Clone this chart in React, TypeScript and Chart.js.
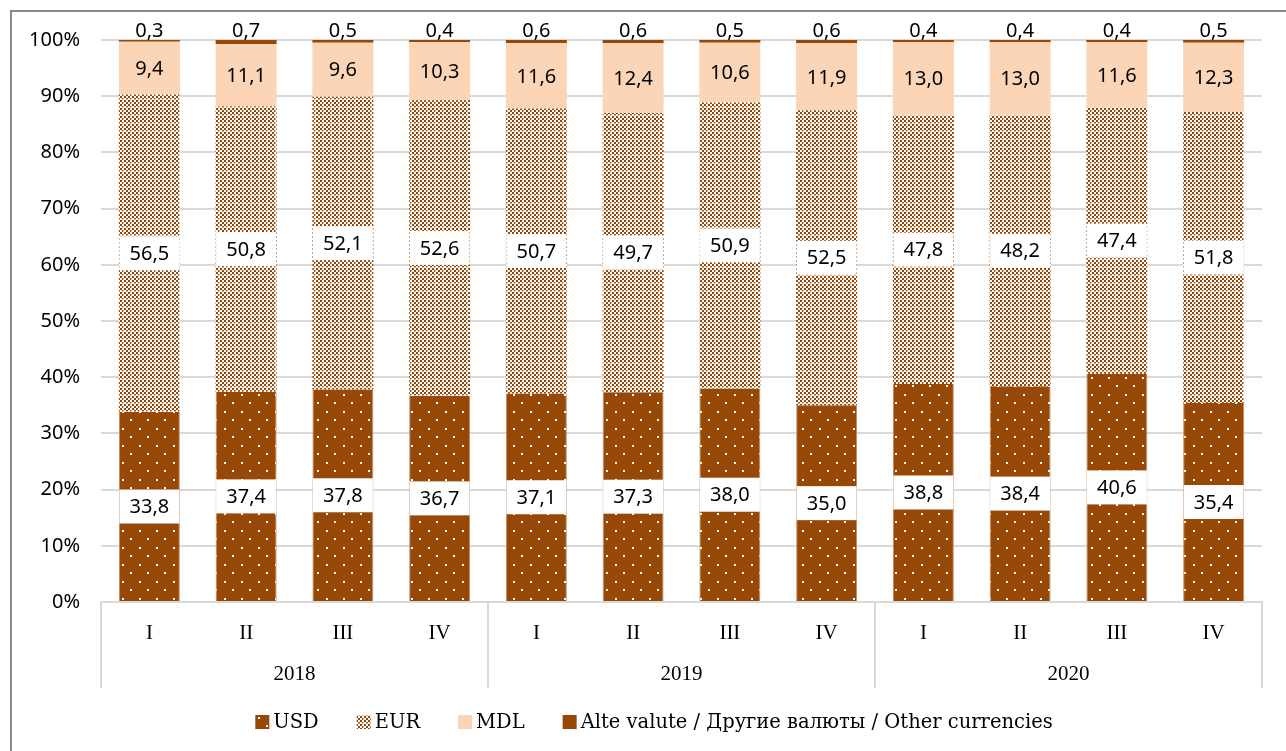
import React, { useEffect, useRef } from 'react';
import { Chart, registerables } from 'chart.js';
Chart.register(...registerables);

const quarters = ['I', 'II', 'III', 'IV', 'I', 'II', 'III', 'IV', 'I', 'II', 'III', 'IV'];
const years = ['2018', '2019', '2020'];
const usd = [33.8, 37.4, 37.8, 36.7, 37.1, 37.3, 38.0, 35.0, 38.8, 38.4, 40.6, 35.4];
const eur = [56.5, 50.8, 52.1, 52.6, 50.7, 49.7, 50.9, 52.5, 47.8, 48.2, 47.4, 51.8];
const mdl = [9.4, 11.1, 9.6, 10.3, 11.6, 12.4, 10.6, 11.9, 13.0, 13.0, 11.6, 12.3];
const other = [0.3, 0.7, 0.5, 0.4, 0.6, 0.6, 0.5, 0.6, 0.4, 0.4, 0.4, 0.5];
const seriesNames = ['USD', 'EUR', 'MDL', 'Alte valute / Другие валюты / Other currencies'];

const BROWN = '#974806';
const PEACH = '#fbd5b5';
const GRID = '#d9d9d9';
const NUM_FONT = '"Noto Sans", sans-serif';
const SERIF_FONT = '"Liberation Serif", serif';
const LEGEND_FONT = '"DejaVu Serif", serif';

function makeDotPattern(ctx: CanvasRenderingContext2D) {
  const c = document.createElement('canvas');
  c.width = 17;
  c.height = 17;
  const g = c.getContext('2d')!;
  g.fillStyle = BROWN;
  g.fillRect(0, 0, 17, 17);
  g.fillStyle = '#ffffff';
  g.fillRect(3, 3, 2, 2);
  g.fillRect(11, 11, 2, 2);
  return ctx.createPattern(c, 'repeat')!;
}

function makeCheckPattern(ctx: CanvasRenderingContext2D) {
  const c = document.createElement('canvas');
  c.width = 8;
  c.height = 8;
  const g = c.getContext('2d')!;
  g.fillStyle = '#ffffff';
  g.fillRect(0, 0, 8, 8);
  g.fillStyle = BROWN;
  for (let by = 0; by < 4; by++) {
    for (let bx = 0; bx < 4; bx++) {
      if ((bx + by) % 2 === 0) g.fillRect(bx * 2, by * 2, 2, 2);
    }
  }
  g.fillStyle = 'rgba(255,255,255,0.55)';
  g.fillRect(0, 3, 8, 1);
  g.fillRect(3, 0, 1, 8);
  return ctx.createPattern(c, 'repeat')!;
}

const fmt = (v: number) => v.toFixed(1).replace('.', ',');

export default function App() {
  const ref = useRef<HTMLCanvasElement | null>(null);

  useEffect(() => {
    const canvas = ref.current!;
    const ctx = canvas.getContext('2d')!;
    const dots = makeDotPattern(ctx);
    const check = makeCheckPattern(ctx);
    const fills: any[] = [dots, check, PEACH, BROWN];

    const framePlugin = {
      id: 'frame',
      beforeDraw(chart: any) {
        const c = chart.ctx;
        c.save();
        c.fillStyle = '#ffffff';
        c.fillRect(0, 0, chart.width, chart.height);
        c.strokeStyle = '#8a8a8a';
        c.lineWidth = 2;
        c.beginPath();
        c.moveTo(chart.width, 11);
        c.lineTo(11, 11);
        c.lineTo(11, chart.height);
        c.stroke();
        c.restore();
      },
    };

    const labelPlugin = {
      id: 'labels',
      afterDatasetsDraw(chart: any) {
        const c = chart.ctx;
        c.save();
        c.textAlign = 'center';
        c.textBaseline = 'middle';
        c.font = `20px ${NUM_FONT}`;
        chart.data.datasets.forEach((ds: any, d: number) => {
          const meta = chart.getDatasetMeta(d);
          meta.data.forEach((el: any, i: number) => {
            const v = ds.data[i] as number;
            const cy = (el.y + el.base) / 2;
            if (d === 0 || d === 1) {
              c.fillStyle = '#ffffff';
              c.fillRect(el.x - 30, cy - 17, 60, 34);
              c.fillStyle = '#000000';
              c.fillText(fmt(v), el.x, cy + 1);
            } else if (d === 2) {
              c.fillStyle = '#000000';
              c.fillText(fmt(v), el.x, cy + 1);
            } else {
              c.fillStyle = '#000000';
              c.fillText(fmt(v), el.x, el.y - 9);
            }
          });
        });
        c.restore();
      },
    };

    const axisPlugin = {
      id: 'multiAxis',
      afterDraw(chart: any) {
        const c = chart.ctx;
        const area = chart.chartArea;
        const xs = chart.scales.x;
        c.save();
        c.font = `21px ${SERIF_FONT}`;
        c.fillStyle = '#000000';
        c.textAlign = 'center';
        c.textBaseline = 'middle';
        quarters.forEach((q, i) => {
          c.fillText(q, xs.getPixelForValue(i), area.bottom + 31);
        });
        const n = years.length;
        const groupW = (area.right - area.left) / n;
        c.strokeStyle = GRID;
        c.lineWidth = 2;
        for (let k = 0; k <= n; k++) {
          const x = Math.round(area.left + k * groupW);
          c.beginPath();
          c.moveTo(x, area.bottom);
          c.lineTo(x, area.bottom + 86);
          c.stroke();
        }
        years.forEach((y, k) => {
          c.fillText(y, area.left + (k + 0.5) * groupW, area.bottom + 72);
        });
        // legend
        c.font = `19.5px ${LEGEND_FONT}`;
        const box = 14;
        const gapText = 4;
        const gapItem = 38;
        const widths = seriesNames.map((s) => box + gapText + c.measureText(s).width);
        const total = widths.reduce((a, b) => a + b, 0) + gapItem * (seriesNames.length - 1);
        let x = 654 - total / 2;
        const ly = 722;
        c.textAlign = 'left';
        seriesNames.forEach((s, i) => {
          c.fillStyle = fills[i];
          c.fillRect(x, ly - box / 2, box, box);
          c.fillStyle = '#000000';
          c.fillText(s, x + box + gapText, ly + 1);
          x += widths[i] + gapItem;
        });
        c.restore();
      },
    };

    const chart = new Chart(canvas, {
      type: 'bar',
      data: {
        labels: quarters.map((q, i) => `${q}-${i}`),
        datasets: [
          { label: seriesNames[0], data: usd, backgroundColor: dots, borderColor: '#c58a5c', borderWidth: { left: 1, right: 1, top: 0, bottom: 0 } as any },
          { label: seriesNames[1], data: eur, backgroundColor: check, borderWidth: 0 },
          { label: seriesNames[2], data: mdl, backgroundColor: PEACH, borderWidth: 0 },
          { label: seriesNames[3], data: other, backgroundColor: BROWN, borderWidth: 0 },
        ].map((d) => ({ ...d, barPercentage: 0.63, categoryPercentage: 1 })),
      },
      options: {
        responsive: false,
        animation: false,
        layout: { padding: { left: 0, right: 24, top: 40, bottom: 63 } },
        plugins: { legend: { display: false }, tooltip: { enabled: false } },
        scales: {
          x: {
            stacked: true,
            grid: { display: false },
            border: { display: true, color: GRID, width: 2 },
            ticks: { display: false },
            afterFit: (s: any) => {
              s.height = 86;
            },
          },
          y: {
            stacked: true,
            min: 0,
            max: 100,
            ticks: {
              stepSize: 10,
              callback: (v: any) => `${v}%`,
              font: { family: NUM_FONT, size: 20 },
              color: '#000000',
              padding: 21,
            },
            grid: { color: GRID, lineWidth: 2, drawTicks: false },
            border: { display: false },
            afterFit: (s: any) => {
              s.width = 101;
            },
          },
        },
      },
      plugins: [framePlugin, labelPlugin, axisPlugin],
    });
    return () => chart.destroy();
  }, []);

  return (
    <div style={{ position: 'absolute', left: 0, top: 0, width: 1286, height: 751, background: '#fff' }}>
      <canvas ref={ref} width={1286} height={751} style={{ display: 'block' }} />
    </div>
  );
}
